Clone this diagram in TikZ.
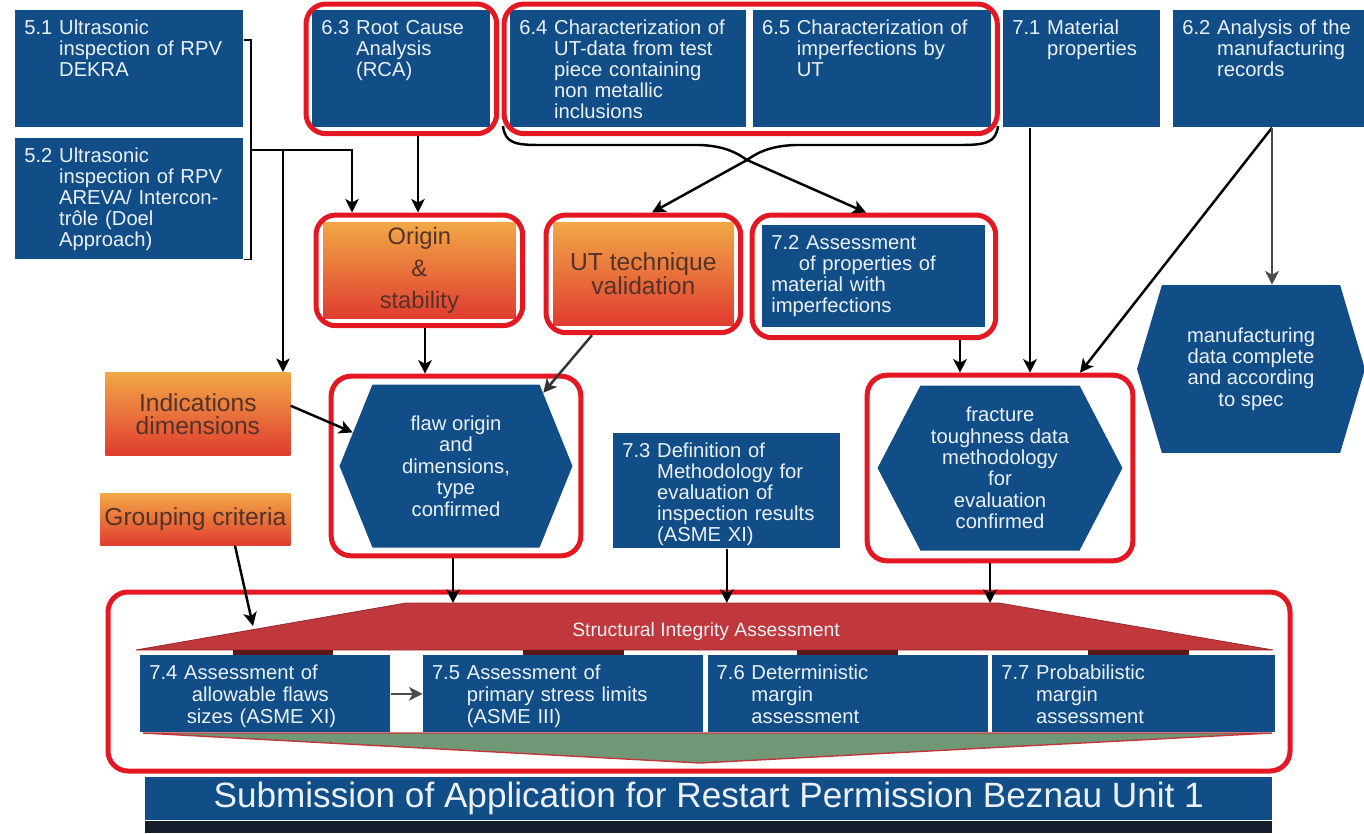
\documentclass[tikz,border=0pt]{standalone}
\usepackage{fontspec}
\setmainfont{Liberation Sans}
\usetikzlibrary{arrows.meta,positioning,shapes.symbols,fit,calc}

\definecolor{boxBlue}{RGB}{17,78,136}
\definecolor{boxText}{RGB}{236,241,248}
\definecolor{ringRed}{RGB}{228,24,34}
\definecolor{gradTop}{RGB}{241,168,70}
\definecolor{gradBot}{RGB}{224,60,48}
\definecolor{gradText}{RGB}{85,50,40}
\definecolor{siaRed}{RGB}{192,56,60}
\definecolor{barDark}{RGB}{90,25,20}
\definecolor{sageGreen}{RGB}{112,152,118}
\definecolor{navyDark}{RGB}{22,30,45}

\newcommand{\numItem}[2]{\begin{tabular}[t]{@{}l@{\ }l@{}}#1&\begin{tabular}[t]{@{}l@{}}#2\end{tabular}\end{tabular}}

\begin{document}
\begin{tikzpicture}[x=0.02cm,y=-0.02cm,>={Stealth[length=0.27cm,width=0.27cm,inset=0.07cm]}]
  \useasboundingbox (0,0) rectangle (1364,833);
  \tikzset{
    blueBox/.style 2 args={rectangle, fill=boxBlue, text=boxText, anchor=north west,
      inner xsep=0.18cm, inner ysep=0.16cm, text height=0.32cm, text width=#1, text depth=#2,
      align=left, font=\fontsize{11.5}{12}\selectfont},
    gradBox/.style 2 args={rectangle, top color=gradTop, bottom color=gradBot, text=gradText,
      anchor=north west, minimum width=#1, minimum height=#2, align=center, inner sep=0pt},
    hexNode/.style n args={3}{signal, signal to=east and west, signal pointer angle=#3,
      fill=boxBlue, text=boxText, minimum width=#1, minimum height=#2, align=center,
      inner sep=0pt, font=\fontsize{11.5}{12.2}\selectfont},
    banner/.style={rectangle, fill=boxBlue, text=boxText, anchor=north west, inner sep=0pt},
    % ring styles
    ring/.style={draw=ringRed, line width=0.1cm, rounded corners=0.4cm, inner sep=0.12cm},
    % edge styles
    flow/.style={->, line width=1.4pt},
    bracket/.style={line width=0.8pt}
  }

  % Inspection boxes
  \node [blueBox={4.20cm}{1.70cm}] (d51) at (15,10) {\numItem{5.1}{Ultrasonic\\inspection of RPV\\DEKRA}};
  \node [blueBox={4.20cm}{1.78cm}, below=0.2cm of d51.south west, anchor=north west] (d52)
    {\numItem{5.2}{Ultrasonic\\inspection of RPV\\AREVA/ Intercon-\\trôle (Doel\\Approach)}};

  \node [blueBox={3.20cm}{1.70cm}] (rca) at (312,10) {\numItem{6.3}{Root Cause\\Analysis\\(RCA)}};
  \node [blueBox={4.36cm}{1.70cm}] (ut64) at (510,10)
    {\numItem{6.4}{Characterization of\\UT-data from test\\piece containing\\non metallic\\inclusions}};
  \node [blueBox={4.40cm}{1.70cm}, right=0.12cm of ut64.north east, anchor=north west] (imp65)
    {\numItem{6.5}{Characterization of\\imperfections by\\UT}};
  \node [blueBox={2.78cm}{1.70cm}] (mat71) at (1003,10) {\numItem{7.1}{Material\\properties}};
  \node [blueBox={3.46cm}{1.70cm}] (rec62) at (1173,10) {\numItem{6.2}{Analysis of the\\manufacturing\\records}};

  % Second row
  \node [gradBox={3.84cm}{1.92cm}, font=\fontsize{13.5}{16}\selectfont] (orig) at (323,222)
    {Origin\\[2pt]\&\\[2pt]stability};
  \node [gradBox={3.60cm}{2.06cm}, font=\fontsize{14}{14}\selectfont] (valid) at (553,222)
    {UT technique\\validation};
  \node [blueBox={4.10cm}{1.40cm}] (ass72) at (762,225)
    {7.2 Assessment\\\hspace*{0.55cm}of properties of\\material with\\imperfections};

  \node [gradBox={3.70cm}{1.66cm}, font=\fontsize{14}{13}\selectfont] (ind) at (105,372)
    {Indications\\dimensions};
  \node [gradBox={3.80cm}{1.04cm}, font=\fontsize{14}{14}\selectfont] (grp) at (100,493)
    {Grouping criteria};

  % Hexagons
  \node [hexNode={4.66cm}{3.26cm}{136}] (flaw) at (456,466)
    {flaw origin\\and\\dimensions,\\type\\confirmed};
  \node [hexNode={4.90cm}{3.30cm}{125}] (frac) at (1000,468)
    {fracture\\toughness data\\methodology\\for\\evaluation\\confirmed};
  \node [hexNode={4.56cm}{3.36cm}{147}] (manuf) at (1251,369)
    {manufacturing\\data complete\\and according\\to spec};

  \node [blueBox={4.18cm}{1.66cm}] (meth73) at (613,433)
    {\numItem{7.3}{Definition of\\Methodology for\\evaluation of\\inspection results\\(ASME XI)}};

  % Structural Integrity Assessment
  \coordinate (siaBL) at (136,650);
  \coordinate (siaTL) at (406,603);
  \coordinate (siaTR) at (999,603);
  \coordinate (siaBR) at (1273,650);
  \coordinate (siaG) at (253,626);
  \filldraw [fill=siaRed, draw=siaRed!80!black, line width=0.5pt]
    (siaBL) -- (siaTL) -- (siaTR) -- (siaBR) -- cycle;
  \node [text=boxText, font=\fontsize{11}{13}\selectfont] (sia) at (706,631) {Structural Integrity Assessment};
  \foreach \xa/\xb in {233/333, 523/624, 797/898, 1088/1189}
    \fill [barDark] (\xa,650) rectangle (\xb,655);
  \filldraw [fill=sageGreen, draw=siaRed, line width=0.8pt] (143,733) -- (1272,733) -- (700,763) -- cycle;

  \node [blueBox={4.64cm}{0.90cm}, font=\fontsize{11.5}{12.5}\selectfont] (a74) at (140,655)
    {7.4 Assessment of\\\hspace*{0.85cm}allowable flaws\\\hspace*{0.75cm}sizes (ASME XI)};
  \node [blueBox={5.24cm}{0.90cm}, font=\fontsize{11.5}{12.5}\selectfont,
    right=0.64cm of a74.north east, anchor=north west] (a75)
    {\numItem{7.5}{Assessment of\\primary stress limits\\(ASME III)}};
  \node [blueBox={5.24cm}{0.90cm}, font=\fontsize{11.5}{12.5}\selectfont,
    right=0.08cm of a75.north east, anchor=north west] (a76)
    {\numItem{7.6}{Deterministic\\margin\\assessment}};
  \node [blueBox={5.30cm}{0.90cm}, font=\fontsize{11.5}{12.5}\selectfont,
    right=0.08cm of a76.north east, anchor=north west] (a77)
    {\numItem{7.7}{Probabilistic\\margin\\assessment}};

  % Submission
  \node [banner, minimum width=22.54cm, minimum height=0.86cm, font=\fontsize{20}{24}\selectfont] (subm)
    at (145,777) {Submission of Application for Restart Permission Beznau Unit 1};
  \fill [navyDark] (subm.south west) rectangle (1272,833);

  % Rings
  \node [ring, fit=(rca)] (rcaRing) {};
  \node [ring, fit=(ut64) (imp65)] (charRing) {};
  \node [ring, inner sep=0.14cm, fit=(orig)] (origRing) {};
  \node [ring, inner sep=0.14cm, fit=(valid)] (validRing) {};
  \node [ring, inner sep=0.2cm, fit=(ass72)] (ass72Ring) {};
  \node [ring, inner sep=0.16cm, fit=(flaw.west) (flaw.east) (flaw.north) (flaw.south)] (flawRing) {};
  \node [ring, inner sep=0.2cm, fit=(frac.west) (frac.east) (frac.north) (frac.south)] (fracRing) {};
  \node [ring, inner sep=0pt, fit={(108,592) (1290,771)}] (siaRing) {};

  % Connectors
  \coordinate (brk) at (251,150);
  \coordinate (brkInd) at (283,150);
  \draw [bracket] ($(d51.north east)+(0,30)$) -| (brk) |- (d52.south east);
  \draw [flow] (brk) -| (352,0 |- origRing.north);
  \draw [flow] (brkInd) -- (brkInd |- ind.north);
  \draw [flow] (rcaRing.south -| 418,0) -- (origRing.north -| 418,0);
  \draw [flow] (origRing.south -| 425,0) -- (flawRing.north -| 425,0);

  \coordinate (braceL) at (503,126);
  \coordinate (braceR) at (998,126);
  \coordinate (braceX) at (747,160);
  \draw [flow] (braceL) .. controls (505,143) and (515,145) .. (540,145) -- (700,145)
    .. controls (725,146) and (737,153) .. (braceX) -- (ass72Ring.north -| 866,0);
  \draw [flow] (braceR) .. controls (996,143) and (985,145) .. (960,145) -- (795,145)
    .. controls (769,146) and (757,153) .. (braceX) -- (validRing.north -| 652,0);

  \draw [flow, draw=black!80] (validRing.south -| 592,0) -- (flaw.40);
  \draw [flow] (ind.5) -- (flaw.162);
  \draw [flow] (grp.south -| 235,0) -- (siaG);
  \draw [flow] (flawRing.south -| 453,0) -- (453,0 |- siaTL);
  \draw [flow] (meth73.south) -- (meth73.south |- siaTL);
  \draw [flow] (fracRing.south -| 990,0) -- (990,0 |- siaTL);

  \draw [flow] (ass72Ring.south -| 960,0) -- (fracRing.north -| 960,0);
  \draw [flow] (mat71.south -| 1030,0) -- (fracRing.north -| 1030,0);
  \draw [flow] (rec62.south -| 1272,0) -- (fracRing.north -| 1080,0);
  \draw [flow, draw=black!70] (rec62.south -| 1272,0) -- (manuf.north -| 1272,0);
  \draw [flow, draw=black!70] (a74.east) -- (a75.west);
\end{tikzpicture}
\end{document}
